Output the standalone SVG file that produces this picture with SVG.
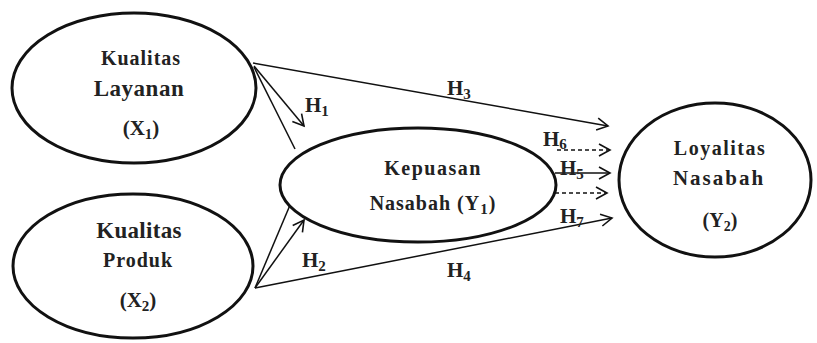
<svg xmlns="http://www.w3.org/2000/svg" width="817" height="343" viewBox="0 0 817 343">
  <defs>
    <marker id="open-arrow" markerUnits="userSpaceOnUse" markerWidth="16" markerHeight="16" refX="12" refY="7" orient="auto">
      <path d="M1,1 L12,7 L1,13" fill="none" stroke="#111" stroke-width="1.6"/>
    </marker>
    <style>
      .node { fill: #fff; stroke: #111; stroke-width: 3; }
      .link { fill: none; stroke: #111; stroke-width: 1.5; }
      .dash { stroke-dasharray: 4 3; }
      text { font-family: "Liberation Serif", "Times New Roman", serif; font-weight: bold; fill: #222; }
      .lbl { font-size: 21px; }
      .sub { font-size: 15px; }
    </style>
  </defs>
  <rect width="817" height="343" fill="#fff"/>

  <!-- connectors -->
  <g id="connectors">
    <line class="link" x1="253" y1="63" x2="608" y2="126" marker-end="url(#open-arrow)"/>
    <line class="link" x1="254" y1="66" x2="304" y2="126" marker-end="url(#open-arrow)"/>
    <line class="link" x1="254" y1="67" x2="295" y2="149"/>
    <line class="link" x1="255" y1="288" x2="293" y2="198"/>
    <line class="link" x1="255" y1="288" x2="304" y2="220" marker-end="url(#open-arrow)"/>
    <line class="link" x1="255" y1="288" x2="612" y2="218" marker-end="url(#open-arrow)"/>
    <line class="link dash" x1="557" y1="150" x2="610" y2="150" marker-end="url(#open-arrow)"/>
    <line class="link" x1="555" y1="173" x2="610" y2="173" marker-end="url(#open-arrow)"/>
    <line class="link dash" x1="555" y1="193" x2="607" y2="193" marker-end="url(#open-arrow)"/>

    <text class="lbl" x="447" y="95">H<tspan class="sub" dy="4">3</tspan></text>
    <text class="lbl" x="305" y="112">H<tspan class="sub" dy="4">1</tspan></text>
    <text class="lbl" x="302" y="267">H<tspan class="sub" dy="4">2</tspan></text>
    <text class="lbl" x="447" y="277">H<tspan class="sub" dy="4">4</tspan></text>
    <text class="lbl" x="543" y="146">H<tspan class="sub" dy="3">6</tspan></text>
    <text class="lbl" x="560" y="175">H<tspan class="sub" dy="4">5</tspan></text>
    <text class="lbl" x="560" y="223">H<tspan class="sub" dy="4">7</tspan></text>
  </g>

  <!-- Kualitas Layanan -->
  <g id="x1">
    <ellipse class="node" cx="134" cy="88" rx="122" ry="75"/>
    <text x="141" y="65" font-size="20" letter-spacing="1" text-anchor="middle">Kualitas</text>
    <text x="139" y="96" font-size="23" letter-spacing="0.5" text-anchor="middle">Layanan</text>
    <text x="141" y="135" font-size="21" text-anchor="middle">(X<tspan font-size="15" dy="4">1</tspan><tspan dy="-4">)</tspan></text>
  </g>

  <!-- Kualitas Produk -->
  <g id="x2">
    <ellipse class="node" cx="133" cy="266" rx="120" ry="72"/>
    <text x="139" y="238" font-size="23" letter-spacing="0.3" text-anchor="middle">Kualitas</text>
    <text x="138" y="267" font-size="20" letter-spacing="1" text-anchor="middle">Produk</text>
    <text x="138" y="307" font-size="21" text-anchor="middle">(X<tspan font-size="15" dy="4">2</tspan><tspan dy="-4">)</tspan></text>
  </g>

  <!-- Kepuasan Nasabah -->
  <g id="y1">
    <ellipse class="node" cx="418" cy="185" rx="138" ry="57"/>
    <text x="433" y="175" font-size="20" letter-spacing="1.5" text-anchor="middle">Kepuasan</text>
    <text x="433" y="210" font-size="20" letter-spacing="1" text-anchor="middle">Nasabah  (Y<tspan font-size="15" dy="4">1</tspan><tspan dy="-4">)</tspan></text>
  </g>

  <!-- Loyalitas Nasabah -->
  <g id="y2">
    <ellipse class="node" cx="715" cy="180" rx="96" ry="77"/>
    <text x="720" y="155" font-size="20" letter-spacing="1.5" text-anchor="middle">Loyalitas</text>
    <text x="719" y="185" font-size="21" letter-spacing="2" text-anchor="middle">Nasabah</text>
    <text x="720" y="227" font-size="20" text-anchor="middle">(Y<tspan font-size="14" dy="4">2</tspan><tspan dy="-4">)</tspan></text>
  </g>
</svg>
